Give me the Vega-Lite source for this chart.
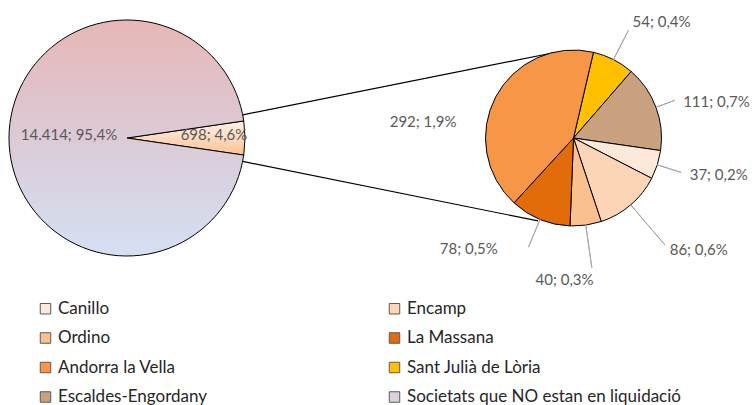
{
  "$schema": "https://vega.github.io/schema/vega-lite/v6.json",
  "width": 752,
  "height": 276,
  "padding": 0,
  "background": "white",
  "config": {"view": {"stroke": null}, "font": "Lato"},
  "datasets": {
    "total": [
      {"grup": "Total", "categoria": "Societats en liquidació", "valor": 698, "etiqueta": "698; 4,6%", "ordre": 1},
      {"grup": "Total", "categoria": "Societats que NO estan en liquidació", "valor": 14414, "etiqueta": "14.414; 95,4%", "ordre": 2}
    ],
    "detall": [
      {"grup": "Detall", "municipi": "Sant Julià de Lòria", "valor": 54, "etiqueta": "54; 0,4%", "ordre": 1},
      {"grup": "Detall", "municipi": "Escaldes-Engordany", "valor": 111, "etiqueta": "111; 0,7%", "ordre": 2},
      {"grup": "Detall", "municipi": "Canillo", "valor": 37, "etiqueta": "37; 0,2%", "ordre": 3},
      {"grup": "Detall", "municipi": "Encamp", "valor": 86, "etiqueta": "86; 0,6%", "ordre": 4},
      {"grup": "Detall", "municipi": "Ordino", "valor": 40, "etiqueta": "40; 0,3%", "ordre": 5},
      {"grup": "Detall", "municipi": "La Massana", "valor": 78, "etiqueta": "78; 0,5%", "ordre": 6},
      {"grup": "Detall", "municipi": "Andorra la Vella", "valor": 292, "etiqueta": "292; 1,9%", "ordre": 7}
    ]
  },
  "layer": [
    {
      "data": {"name": "total"},
      "transform": [{"filter": "datum.ordre === 1"}],
      "mark": {"type": "arc", "theta": 1.3736, "theta2": 1.3736, "radius": 436.4, "radius2": 118, "filled": false, "stroke": "#000000", "strokeWidth": 1.2},
      "encoding": {
        "x": {"field": "grup", "type": "nominal", "scale": {"type": "point", "domain": ["Total", "Detall"], "range": [127, 573.5], "padding": 0}, "axis": null}
      }
    },
    {
      "data": {"name": "total"},
      "transform": [{"filter": "datum.ordre === 1"}],
      "mark": {"type": "arc", "theta": 1.7698, "theta2": 1.7698, "radius": 419.3, "radius2": 118, "filled": false, "stroke": "#000000", "strokeWidth": 1.2},
      "encoding": {
        "x": {"field": "grup", "type": "nominal", "axis": null}
      }
    },
    {
      "data": {"name": "total"},
      "mark": {"type": "arc", "radius": 118, "stroke": "#000000", "strokeWidth": 1},
      "encoding": {
        "x": {"field": "grup", "type": "nominal", "axis": null},
        "theta": {"field": "valor", "type": "quantitative", "stack": true, "scale": {"range": [1.4258, 7.709]}},
        "order": {"field": "ordre", "type": "quantitative"},
        "color": {
          "condition": {"test": "datum.ordre === 1", "value": {"gradient": "linear", "x1": 0, "y1": 0, "x2": 0, "y2": 1, "stops": [{"offset": 0, "color": "#fef1e8"}, {"offset": 1, "color": "#f9c293"}]}},
          "value": {"gradient": "linear", "x1": 0, "y1": 0, "x2": 0, "y2": 1, "stops": [{"offset": 0, "color": "#e6b7b6"}, {"offset": 0.5, "color": "#dccad6"}, {"offset": 1, "color": "#d4e0f3"}]}
        }
      }
    },
    {
      "data": {"name": "total"},
      "mark": {"type": "text", "radius": {"expr": "datum.ordre === 1 ? 87 : 58"}, "dy": -3, "font": "Lato", "fontSize": 15, "color": "#595959", "baseline": "middle", "align": "center"},
      "encoding": {
        "x": {"field": "grup", "type": "nominal", "axis": null},
        "theta": {"field": "valor", "type": "quantitative", "stack": true, "scale": {"range": [1.4258, 7.709]}},
        "order": {"field": "ordre", "type": "quantitative"},
        "text": {"field": "etiqueta", "type": "nominal"}
      }
    },
    {
      "data": {"name": "detall"},
      "mark": {"type": "arc", "radius": 88, "stroke": "#000000", "strokeWidth": 1},
      "encoding": {
        "x": {"field": "grup", "type": "nominal", "axis": null},
        "theta": {"field": "valor", "type": "quantitative", "stack": true, "scale": {"range": [0.2286, 6.5118]}},
        "order": {"field": "ordre", "type": "quantitative"},
        "color": {
          "field": "municipi",
          "type": "nominal",
          "scale": {
            "domain": ["Canillo", "Ordino", "Andorra la Vella", "Escaldes-Engordany", "Encamp", "La Massana", "Sant Julià de Lòria", "Societats que NO estan en liquidació"],
            "range": ["#fde9d9", "#fac090", "#f79646", "#c9a17f", "#fbd5b5", "#e26b0a", "#ffc000", "#dcd0dc"]
          },
          "legend": {
            "title": null,
            "orient": "none",
            "legendX": 37,
            "legendY": 300,
            "columns": 2,
            "symbolType": "square",
            "symbolSize": 110,
            "symbolStrokeColor": "#595959",
            "symbolStrokeWidth": 1,
            "labelFont": "Lato",
            "labelFontSize": 17,
            "labelColor": "#262626",
            "labelOffset": 4,
            "labelLimit": 400,
            "rowPadding": 11.5,
            "columnPadding": 178,
            "padding": 0
          }
        }
      }
    },
    {
      "data": {"name": "detall"},
      "mark": {
        "type": "arc",
        "padAngle": 3.1416,
        "radius": {"expr": "datum.municipi === 'Sant Julià de Lòria' ? 121 : datum.municipi === 'Escaldes-Engordany' ? 108 : datum.municipi === 'Canillo' ? 113 : datum.municipi === 'Encamp' ? 141 : datum.municipi === 'Ordino' ? 131 : datum.municipi === 'La Massana' ? 118 : 88"},
        "radius2": 88,
        "filled": false,
        "stroke": "#a6a6a6",
        "strokeWidth": 1
      },
      "encoding": {
        "x": {"field": "grup", "type": "nominal", "axis": null},
        "theta": {"field": "valor", "type": "quantitative", "stack": true, "scale": {"range": [0.2286, 6.5118]}},
        "order": {"field": "ordre", "type": "quantitative"}
      }
    },
    {
      "data": {"name": "detall"},
      "mark": {
        "type": "text",
        "font": "Lato",
        "fontSize": 15,
        "color": "#595959",
        "baseline": "middle",
        "radius": {"expr": "datum.municipi === 'Sant Julià de Lòria' ? 130 : datum.municipi === 'Escaldes-Engordany' ? 117 : datum.municipi === 'Canillo' ? 122 : datum.municipi === 'Encamp' ? 148 : datum.municipi === 'Ordino' ? 143 : datum.municipi === 'La Massana' ? 120 : 112"},
        "align": {"expr": "datum.ordre >= 5 ? 'right' : 'left'"},
        "dx": {"expr": "datum.municipi === 'La Massana' ? -30 : datum.municipi === 'Andorra la Vella' ? -18 : 0"},
        "dy": {"expr": "datum.municipi === 'Andorra la Vella' ? 36 : datum.municipi === 'Escaldes-Engordany' ? 5 : 0"}
      },
      "encoding": {
        "x": {"field": "grup", "type": "nominal", "axis": null},
        "theta": {"field": "valor", "type": "quantitative", "stack": true, "scale": {"range": [0.2286, 6.5118]}},
        "order": {"field": "ordre", "type": "quantitative"},
        "text": {"field": "etiqueta", "type": "nominal"}
      }
    }
  ],
  "resolve": {"scale": {"theta": "independent"}}
}
